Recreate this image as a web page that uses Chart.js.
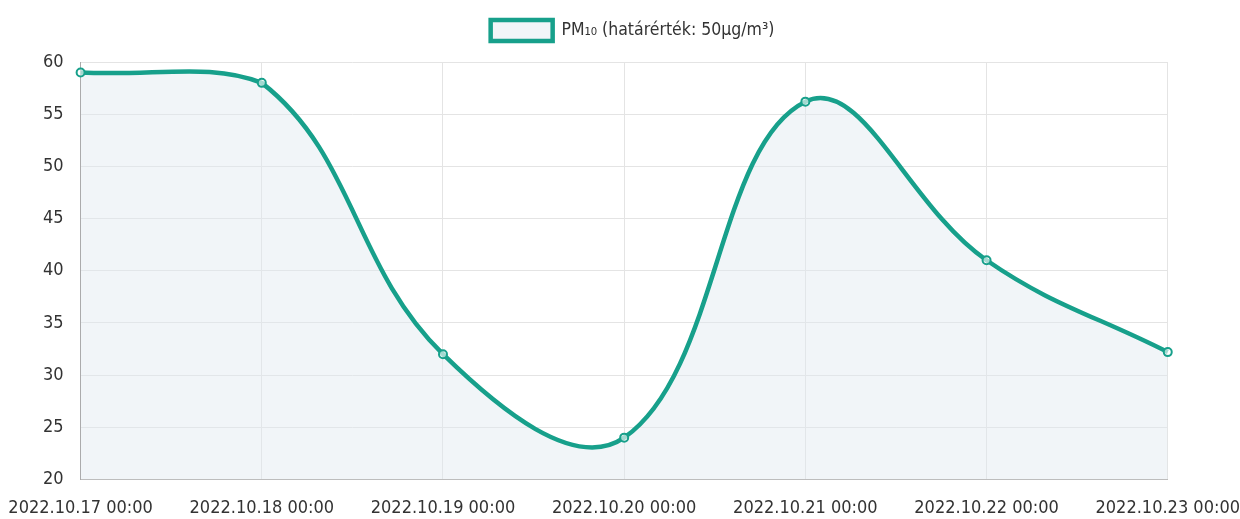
<!DOCTYPE html>
<html>
<head>
<meta charset="utf-8">
<script src="https://cdn.jsdelivr.net/npm/chart.js@4"></script>
<style>
  html, body { margin: 0; padding: 0; background: #fff; }
  #wrap { width: 1240px; height: 519px; }
</style>
</head>
<body>
<div id="wrap"><canvas id="myChart"></canvas></div>
<script>
const labels = ['2022.10.17 00:00', '2022.10.18 00:00', '2022.10.19 00:00', '2022.10.20 00:00',
                '2022.10.21 00:00', '2022.10.22 00:00', '2022.10.23 00:00'];
const pm10 = [59, 58, 32, 24, 56.2, 41, 32.2];
const seriesName = 'PM\u2081\u2080 (határérték: 50µg/m\u00b3)';

Chart.defaults.font.family = '"DejaVu Sans Condensed", "Liberation Sans Narrow", sans-serif';
Chart.defaults.color = '#333';

// a bit more room under the legend
const legendGap = {
    id: 'legendGap',
    beforeInit(chart) {
        const fit = chart.legend.fit;
        chart.legend.fit = function () {
            fit.bind(chart.legend)();
            this.height += 11;
        };
    }
};

const data = {
    labels: labels,
    datasets: [{
        label: seriesName,
        data: pm10,
        borderColor: '#17a08b',
        backgroundColor: 'rgba(225, 232, 240, 0.45)',
        borderWidth: 4.5,
        fill: true,
        tension: 0.4,
        pointRadius: 4,
        pointBorderWidth: 2,
        pointBackgroundColor: 'rgba(255,255,255,0.6)',
        pointBorderColor: '#17a08b'
    }]
};

const config = {
    type: 'line',
    data: data,
    options: {
        responsive: true,
        maintainAspectRatio: false,
        animation: false,
        layout: { padding: { left: 26, right: 1, top: 6, bottom: 0 } },
        plugins: {
            legend: {
                labels: {
                    font: { size: 17.5 },
                    boxWidth: 62,
                    boxHeight: 21,
                    padding: 14
                }
            },
            tooltip: { enabled: false }
        },
        scales: {
            x: {
                // invisible tick marks give the vertical gap without widening the side padding
                grid: { color: '#e4e4e4', drawTicks: true, tickLength: 18, tickColor: 'rgba(0,0,0,0)' },
                border: { color: '#bbb' },
                ticks: { font: { size: 18 }, maxRotation: 0, padding: 0 }
            },
            y: {
                min: 20,
                max: 60,
                grid: { color: '#e4e4e4', drawTicks: false },
                border: { color: '#aaa' },
                ticks: { stepSize: 5, font: { size: 18 }, padding: 17 }
            }
        }
    },
    plugins: [legendGap]
};

new Chart(document.getElementById('myChart'), config);
</script>
</body>
</html>
